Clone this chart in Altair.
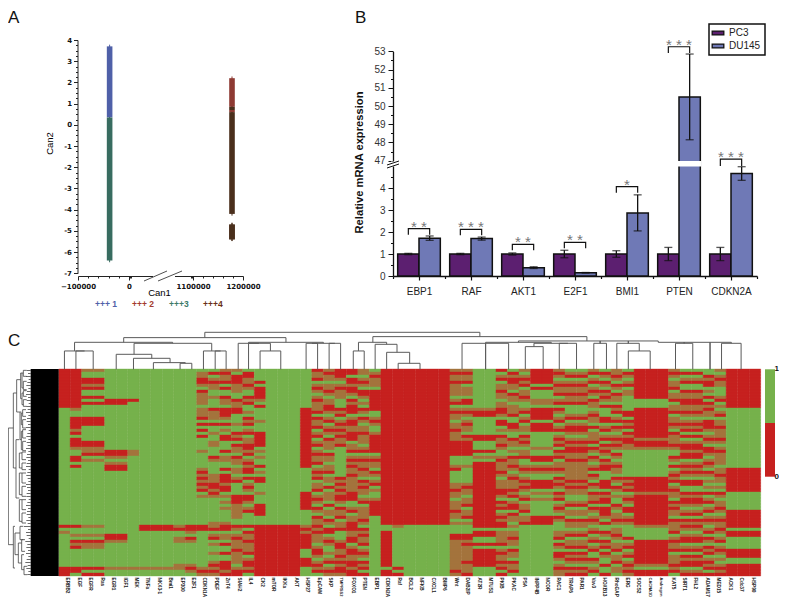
import re
import altair as alt
import pandas as pd

W, H = 771, 589
SANS = "Liberation Sans"
GREEN, RED, MIX = "#76b14b", "#c6211f", "#a4733c"

# ---------- Panel A ----------
can_x_major = [-100000, 0, 1100000, 1200000]
can_x_ticks = [-100000, -80000, -60000, -40000, -20000, 0, 20000, 40000,
               1060000, 1080000, 1100000, 1120000, 1140000, 1160000, 1180000, 1200000]
can_y_ticks = [v / 4 for v in range(-28, 17)]
can_group = ["1", "4", "2", "4", "2", "4", "3", "4"]
can_x = [-38000, 1178000, 1178000, 1178000, 1178000, 1178000, -38000, 1178000]
can_hi = [3.7, -4.7, 2.2, 0.85, 0.7, 0.6, 0.35, -4.7]
can_lo = [0.35, -5.4, 0.85, 0.7, 0.6, -4.2, -6.4, -5.4]
can_names = ["1", "2", "3", "4"]
can_colors = ["#4f60a8", "#8e3a33", "#386c60", "#4a2f1c"]
can_legend = ["+++ 1", "+++ 2", "+++3", "+++4"]
can_legend_text = ["#4f60a8", "#a33a2e", "#3d7a68", "#6a3018"]

# ---------- Panel B ----------
genes = ["EBP1", "RAF", "AKT1", "E2F1", "BMI1", "PTEN", "CDKN2A"]
pc3_val = [1, 1, 1, 1, 1, 1, 1]
pc3_err = [0.03, 0.03, 0.05, 0.17, 0.15, 0.3, 0.3]
du_val = [1.72, 1.7, 0.38, 0.15, 2.87, 50.5, 4.66]
du_err = [0.1, 0.07, 0.04, 0.01, 0.82, 2.35, 0.31]
sig_top = [2.15, 2.12, 1.44, 1.53, 4.06, 53.25, 47.09]
sig_low = [1.88, 1.85, 1.17, 1.26, 3.79, 52.9, 5.0]
sig_txt = ["*\u00a0*", "*\u00a0*\u00a0*", "*\u00a0*", "*\u00a0*", "*", "*\u00a0*\u00a0*", "*\u00a0*\u00a0*"]
y_ticks_b = [v / 2 for v in range(0, 10)] + [47 + v / 2 for v in range(0, 13)]
group_edges = [0, 1, 2, 3, 4, 5, 6, 7]
BREAK_LO, BREAK_HI = 5.02, 46.93

# ---------- Panel C ----------
col_names = ["ERBB2", "EGF", "EGFR", "Ras", "EGR1", "IGF1", "MEK", "TNFa", "NKX3-1", "Bmi1", "EP300", "E2F1",
             "CDKN1A", "PDEF", "ZnT4", "SIAH2", "IL4", "CK2", "mTOR", "IKKa", "AKT", "HSP27", "EpCAM", "SKP",
             "TMPRSS2", "FOXO1", "PTEN", "EBP1", "CDKN2A", "Raf", "BCL2", "NFKB", "CXCL1", "BMP6", "Wnt", "DAB2IP",
             "AT2R", "MTUS1", "PKIB", "PKAC", "PSA", "INPP4B", "NCOR", "RAC1", "TRAP6", "PAR1", "Vav3", "HOXB13",
             "RhoGAP", "ERG", "SOCS2", "CACNA1D", "Androgen", "KAT5", "SIRT1", "FHL2", "ADAM17", "MED15", "ACK1",
             "Cdc37", "HSP90"]
long_names = ["TMPRSS2", "CACNA1D", "Androgen"]

c_erbb2 = "r13 g13 g13 g13 rgmg11r3"
c_egf = "r13 mggrrrrmrgrrr mggrrgrg6 g13 rggmgrmrg6rrg"
c_egfr = "mggrrmrggrgrg g3r3g5r2 mmrgmg8 g13 mggmgrmmg6rgr"
c_egr1 = "g10r2g g13 grrmgmrrggggg g13 g3r2mg8mg2"
c_mek = "g10rg2 g13 gmmg10 g13 g14mg2"
c_tnfa = "g13 g13 g13 g13 r2g12mg2"
c_ep300 = "g13 g13 g13 g13 mrggmmg7mmg2"
c_e2f1 = "g13 g13 g13 g13 rrmgrmg7mrmg"
c_cdkn1a = "gmmrrmgrmmmmg mmmrgrgrgrggg gmgggggmrmrmr mrgmg9 rrg12mrm"
c_pdef = "grgmrmmggmggg rmmmgrggmggmm gggrmggggmmmr rmrmg8m mrgmrgmggmggmrmrm"
c_znt4 = "mrmmrgrggrmmg rrrmgrgmgrrgg grgmmggrgrrrm rrgmgmgmggggm rrgmmgrggrggrrrmr"
c_siah2 = "mgrrrmmmggrmm rrgggmggrmrgr mmgrmmgmmgmrg gggrrrmmmmmgg rmgmrmmmrmmmmgmrr"
c_il4 = "grrmmrmggrmrg gmgrmrgmrgmmr rmrgmrmrrgrgm rmgrrmgmrgggg rgrmmrmmmrgmrrmrg"
c_ck2 = "ggggrgrrrrmgr g4mg3r5 gmgmggrgmgrrg ggmgggrrrrggg r17"
c_all_g_red = "g13 g13 g13 g13 r17"
c_hsp27 = "g13 r13 r7g6 g2r6g5 mrmrrrrrgggrrrggg"
c_epcam = "rmmrgmrmgmrmm mrgrmmrgmrgmr gmrmmrgmrmrgm mrgmrmgrmgrmm rmrmmmgmrrmgmrmrg"
c_skp = "mrmmgmmrmgmmr rmgmrgmrmgrmm mgrmmgmmrgmmg rgmmmgrgmmgrm grrgmrmggmgmrgmrm"
c_tmprss2 = "rrrmgmrmmmggg rmrgmrmrmrmmr g10rmr mrmrrmgrmmrgm mrgggmrrmmrmrmrrm"
c_foxo1 = "rrgrrmrrmgrmr rrgmrrmmrrrgm mrgmrmrmmrmmm mmrrrggmrgmmr rrmmrrgmrrmmrrmrr"
c_pten = "mmgmrmgrrmgmg rmgrmgmmrmmmg mrgmrmmrmmgrm rmmgmrgmmmmrm grmrmmrgmrmgrmrgr"
c_ebp1 = "gmrmmmgrrrrrr rggmrmggmrrrr rrgmrmmgrmgmr gmggmrrrrrggg g17"
c_cdkn2a = "r13 r13 r13 r13 ggr12grr"
c_raf = "r13 r13 r13 r13 mg13rgr"
c_bcl2 = "r13 r13 r13 r13 g17"
c_wnt = "mrmmrmmmmgmrg mrmmgmmrmmmrr rrrgggmrggggm mrmmgmmmrmmgm gggrrm10rm"
c_dab2ip = "mrmmrgmmmgrrg mrmgmrmmgrmrr rrrgggmgggggm rmmgmmrgmmrgm gggrrmrmmmmmrmmmr"
c_at2r = "g13 mrrg6rrgg grgmgr8 r13 rgrrggrgr6g3"
c_pkib = "rgmrgmmrmmgmm rrmgrrgmgrmmr mggmrmmmrmgmm mrrmgrmrgmrmr rgmmmmrgmrmmrmrgr"
c_pkac = "grmrrmmgrmmgm mmrggrrmggrmm gmgrmmrmgmrmm mrmrgmrrgrmmg mgmmrmmgrmmgrmmrg"
c_psa = "mgmrmrgmmrmgg mrgmrgmmgrmrm gmmrggmrmgmrm rmgmrgmmrgmmr g17"
c_inpp4b = "r5grgggmmg r4gr3g5 mggrrgmrmggrr rgmgmg5rrr g17"
c_rac1 = "mrmgmrmmrgmrg rmgmrgmrgmrmr grmrgmmrmgrmr mgrmrgmrmgrmg ggmmrgrmgrrmgmrmm"
c_trap6 = "gmrgmrmmrmmrg ggmrgmrrmgmrm rrmmrmmmmmmrm rmmggmrgmmgrm mgmrgmmrgrmrmgrmr"
c_vav3 = "mrgmrgmrmgrmm gmrmmgrgmmmrg rmgrmgmrgrmgr mgrmmrgrmgmrm gmrgmrgmrggrmgmrg"
c_hoxb13 = "grmgrmgrmrmgr gggrrgmrgmrgr mrmgrmrrgggrr rgrmrrgrrrmgr ggrmgrmrgrmggrggr"
c_rhogap = "mmrmgrmgrmmgr mrgmrgrmgmrmr mgrmgmrmmgrmg rmgmggrmgmmrm gmmrmgmmrgmmrgmmg"
c_erg = "grmgmrgmmgggg grrgrmrgrmrrm mg9rmr mrgmrmgrrgmrm ggggrgmrgmrgmrmrm"
c_socs2 = "r10g3 r10mr2 mg9r3 rrmr10 mggggr8mgrr"
c_kat5 = "mrmgmmrgmmrgm mrgmmrmgrmmmr mggrmgrgmrmrg mrmmgrmrmmgrm mmrgmrmmrgmmmrmrg"
c_sirt1 = "grgmrggrmmrrm mrmgmrmrgrgmr rmrrgmrmrmgrr ggrmrrmgmrgrm rmgmrrgmrgrmrrgmr"
c_adam17 = "ggrmrrgmgrgrm rmmgrrrmgmrmg rrmgmrmgrmgmg mgrgmrgmrgmrm gmrgrmgrmrgmrmrgr"
c_med15 = "mgmrmmgggmrgm gmrgmmrmmmrmg mrmmmmgmmrmmg mgrmgmmrmgmrm mrmgmrgmrmgmgmrmr"
c_ack1 = "r13 g13 g7r6 rrg6r5 rgrrggggrrrggrrrr"

heat_cols = [c_erbb2, c_egf, c_egfr, c_egfr, c_egr1, c_egr1, c_mek, c_tnfa, c_tnfa, c_tnfa, c_ep300, c_e2f1,
             c_cdkn1a, c_pdef, c_znt4, c_siah2, c_il4, c_ck2, c_all_g_red, c_all_g_red, c_all_g_red, c_hsp27,
             c_epcam, c_skp, c_tmprss2, c_foxo1, c_pten, c_ebp1, c_cdkn2a, c_raf, c_bcl2, c_bcl2, c_bcl2, c_bcl2,
             c_wnt, c_dab2ip, c_at2r, c_at2r, c_pkib, c_pkac, c_psa, c_inpp4b, c_inpp4b, c_rac1, c_trap6, c_trap6,
             c_vav3, c_hoxb13, c_rhogap, c_erg, c_socs2, c_socs2, c_socs2, c_kat5, c_sirt1, c_sirt1, c_adam17,
             c_med15, c_ack1, c_ack1, c_ack1]

# top dendrogram: left pos, right pos, bar level, left foot, right foot (picture levels)
top_tree = [
    (1.5, 3.0, 78, 133, 133), (0.5, 2.25, 78, 133, 78), (5.0, 8.09, 88, 133, 100), (6.5, 9.68, 100, 133, 113),
    (8.23, 11.0, 113, 133, 115), (10.55, 11.57, 115, 133, 133), (13.6, 14.55, 78, 133, 133),
    (12.58, 14.07, 78, 133, 78), (6.55, 13.3, 55, 88, 78), (1.38, 9.9, 52, 78, 55), (17.5, 19.3, 78, 133, 133),
    (16.5, 18.4, 55, 133, 78), (15.6, 17.4, 55, 133, 55), (21.5, 22.5, 55, 133, 133), (23.5, 24.5, 55, 133, 133),
    (22.0, 24.0, 55, 55, 55), (16.5, 23.0, 52, 55, 55), (5.65, 19.75, 38, 52, 52), (12.7, 36.6, 22, 38, 35),
    (27.3, 45.9, 35, 52, 48), (26.05, 28.5, 52, 78, 58), (25.6, 26.55, 78, 133, 133), (27.5, 29.4, 58, 133, 82),
    (28.5, 30.5, 82, 133, 115), (29.5, 31.4, 115, 133, 133), (39.95, 52.1, 48, 52, 52), (37.1, 42.8, 52, 55, 55),
    (35.05, 39.1, 55, 133, 133), (37.1, 37.1, 55, 133, 133), (40.55, 42.1, 65, 133, 133), (43.5, 45.0, 55, 133, 133),
    (41.3, 44.25, 55, 65, 55), (46.5, 47.6, 55, 133, 133), (48.5, 50.45, 55, 133, 78), (49.5, 51.4, 78, 133, 133),
    (47.05, 47.05, 48, 55, 55), (49.5, 49.5, 48, 55, 55), (53.6, 55.1, 55, 133, 133), (57.6, 59.3, 55, 133, 133),
    (52.1, 58.45, 52, 52, 55), (54.35, 54.35, 52, 55, 55), (56.6, 56.6, 52, 133, 133),
]
# left dendrogram: stem depth, top level, bottom level, top foot depth, bottom foot depth
left_tree = [
    (25, 310, 660, 40, 40), (40, 205, 430, 50, 48), (40, 605, 730, 45, 45), (50, 165, 262, 62, 60),
    (62, 145, 222, 66, 66), (66, 145, 190, 70, 70), (66, 205, 240, 70, 70), (60, 262, 345, 64, 64),
    (64, 265, 300, 68, 68), (64, 320, 375, 68, 68), (48, 345, 520, 58, 58), (58, 385, 430, 66, 66),
    (58, 445, 510, 66, 66), (58, 525, 590, 66, 66), (70, 137, 155, 80, 80), (70, 170, 195, 80, 80),
    (70, 198, 215, 80, 80), (70, 225, 245, 80, 80), (68, 255, 275, 78, 78), (68, 285, 310, 78, 78),
    (68, 315, 340, 78, 78), (68, 350, 378, 78, 78), (66, 382, 405, 78, 78), (66, 415, 435, 78, 78),
    (66, 445, 475, 78, 78), (66, 485, 515, 78, 78), (66, 525, 555, 78, 78), (66, 565, 595, 78, 78),
    (45, 625, 690, 60, 55), (60, 605, 645, 70, 70), (55, 655, 715, 65, 65), (65, 645, 680, 75, 75),
    (65, 690, 735, 72, 72), (72, 725, 750, 82, 82),
]
leaf_depth = [80, 84, 78, 86, 82, 79, 85, 81, 78, 84, 80, 86, 79, 83, 78, 85, 81, 80, 84, 78, 86, 82, 79, 85,
              80, 83, 78, 85, 81, 79, 84, 80, 78, 86, 82, 79, 83, 85, 78, 81, 84, 80, 79, 86, 82, 78, 84, 81,
              80, 85, 79, 83, 72, 84, 78, 80, 86, 76, 82, 79, 84, 78, 85, 80, 76, 83, 79, 85, 82]
CHUNKS = [13, 13, 13, 13, 17]


def expand(col):
    rows = []
    for chunk, n in zip(col.split(), CHUNKS):
        s = "".join(c * (int(k) if k else 1) for c, k in re.findall(r"([rgm])(\d*)", chunk))
        rows.append((s + "g" * n)[:n])
    return "".join(rows)


heat = pd.DataFrame([{"c": i, "r": j, "v": ch}
                     for i, col in enumerate(heat_cols) for j, ch in enumerate(expand(col))])

seg_top = []
for a, b, t, fa, fb in top_tree:
    seg_top += [dict(x=a, x2=b, y=133 - t, y2=133 - t), dict(x=a, x2=a, y=133 - t, y2=133 - fa),
                dict(x=b, x2=b, y=133 - t, y2=133 - fb)]
seg_left = []
for d, t, b, ft, fb in left_tree:
    seg_left += [dict(x=d, x2=d, y=t, y2=b), dict(x=d, x2=ft, y=t, y2=t), dict(x=d, x2=fb, y=b, y2=b)]
for i, d in enumerate(leaf_depth):
    seg_left.append(dict(x=d, x2=92, y=137.5 + 9 * i, y2=137.5 + 9 * i))
seg_top, seg_left = pd.DataFrame(seg_top), pd.DataFrame(seg_left)

NONE = dict(title=None, axis=None)
tick_cond = lambda test, minor, major: {"condition": {"test": test, "value": minor}, "value": major}

# ---------- A ----------
ax_a = alt.Scale(domain=can_x_major, range=[70, 121, 185, 235])
ay_a = alt.Scale(domain=[-7, 4], range=[265.3, 32])
df_a = pd.DataFrame(dict(g=can_group, x=can_x, hi=can_hi, lo=can_lo))
df_a["hi2"] = [v + 0.08 for v in can_hi]
df_a["lo2"] = [v - 0.08 for v in can_lo]
a_color = alt.Color("g:N", scale=alt.Scale(domain=can_names, range=can_colors), legend=None)
a_axes = alt.Chart(df_a).mark_point(opacity=0).encode(
    x=alt.X("x:Q", scale=ax_a, title=None, axis=alt.Axis(
        orient="bottom", offset=268 - H, values=can_x_ticks,
        labelExpr="datum.value % 100000 === 0 ? format(datum.value, 'd') : ''",
        tickSize=tick_cond("datum.value % 100000 !== 0", 2, 4), labelOverlap=False, labelFlush=False,
        labelFont="DejaVu Sans", labelFontWeight="bold", labelFontSize=7, labelColor="#111", labelPadding=2,
        domainColor="#222", tickColor="#222", title="Can1", titleFont=SANS, titleFontSize=9.5,
        titleFontWeight="normal", titleBaseline="middle", titleX=151, titleY=16)),
    y=alt.Y("hi:Q", scale=ay_a, title=None, axis=alt.Axis(
        orient="left", offset=-69.5, values=can_y_ticks,
        labelExpr="datum.value % 1 === 0 ? datum.value : ''",
        tickSize=tick_cond("datum.value % 1 !== 0", 2, 4), labelOverlap=False,
        labelFont="DejaVu Sans", labelFontWeight="bold", labelFontSize=7, labelColor="#111", labelPadding=2,
        domainColor="#222", tickColor="#222", title="Can2", titleFont=SANS, titleFontSize=9.5,
        titleFontWeight="normal", titlePadding=9, titleY=135)),
)
a_base = alt.Chart(df_a).mark_rule(strokeWidth=5.6, strokeCap="butt").encode(
    x=alt.X("x:Q", scale=ax_a, **NONE), y=alt.Y("hi:Q", scale=ay_a, **NONE), y2="lo:Q", color=a_color)
a_caps = alt.Chart(df_a).mark_rule(strokeWidth=1).encode(
    x=alt.X("x:Q", scale=ax_a, **NONE), y=alt.Y("hi2:Q", scale=ay_a, **NONE), y2="lo2:Q", color=a_color)
a_break = [
    alt.Chart().mark_rule(color="white", strokeWidth=3).encode(x=alt.value(145), x2=alt.value(167), y=alt.value(268)),
    alt.Chart().mark_rule(color="#222", strokeWidth=0.8).encode(x=alt.value(136), x2=alt.value(159), y=alt.value(273), y2=alt.value(263)),
    alt.Chart().mark_rule(color="#222", strokeWidth=0.8).encode(x=alt.value(150), x2=alt.value(174), y=alt.value(273), y2=alt.value(263)),
]
a_leg = [alt.Chart().mark_text(text=t, color=c, font=SANS, fontSize=8.5, fontWeight="bold", align="left", baseline="middle")
         .encode(x=alt.value(x), y=alt.value(296))
         for t, c, x in zip(can_legend, can_legend_text, [87, 124, 161, 195])]
panel_a = alt.layer(a_caps, a_base)

# ---------- B ----------
gx = alt.Scale(domain=genes, range=[385, 749], paddingInner=0.18, paddingOuter=0.09)
gxo = alt.Scale(domain=["PC3", "DU145"], paddingInner=0, paddingOuter=0)
gy = alt.Scale(domain=[0, BREAK_LO, BREAK_HI, 53], range=[268, 157.6, 154, 43.3])
df_b = pd.DataFrame(dict(
    gene=genes * 2, series=["PC3"] * 7 + ["DU145"] * 7, val=pc3_val + du_val, err=pc3_err + du_err))
df_b["lo"] = df_b.val - df_b.err
df_b["hi"] = df_b.val + df_b.err
X_B = alt.X("gene:N", scale=gx, sort=genes, **NONE)
XO = alt.XOffset("series:N", scale=gxo, sort=["PC3", "DU145"])
b_axes = alt.Chart(df_b).mark_point(opacity=0).encode(
    x=alt.X("gene:N", scale=gx, sort=genes, title=None, axis=alt.Axis(
        orient="bottom", offset=268 - H, labelAngle=0, labelFont=SANS, labelFontSize=10, labelColor="#222",
        labelPadding=6, tickSize=4, tickColor="#111", domainColor="#111", domainWidth=1.3, tickWidth=1.2)),
    y=alt.Y("val:Q", scale=gy, title=None, axis=alt.Axis(
        orient="left", offset=-385, values=y_ticks_b,
        labelExpr="datum.value % 1 === 0 ? datum.value : ''",
        tickSize=tick_cond("datum.value % 1 !== 0", 2.5, 5), labelOverlap=False, labelFont=SANS, labelFontSize=10,
        labelColor="#333", labelPadding=3, domainColor="#111", domainWidth=1.3, tickColor="#111",
        title="Relative mRNA expression", titleFont=SANS, titleFontSize=11.2, titleFontWeight="bold",
        titleColor="#111", titlePadding=9, titleY=154)),
)
b_edges = alt.Chart(pd.DataFrame(dict(e=group_edges))).mark_point(opacity=0).encode(
    x=alt.X("e:Q", scale=alt.Scale(domain=[0, 7], range=[385, 749]), title=None, axis=alt.Axis(
        orient="bottom", offset=268 - H, values=group_edges, labels=False, domain=False, tickSize=2.5,
        tickColor="#111", tickWidth=1.2)),
)
bars = alt.Chart(df_b).mark_bar(stroke="#111", strokeWidth=1.5).encode(
    x=X_B, xOffset=XO, y=alt.Y("val:Q", scale=gy, **NONE),
    fill=alt.Fill("series:N", scale=alt.Scale(domain=["PC3", "DU145"], range=["#5c1f70", "#6f79b6"]), legend=alt.Legend(
        orient="none", legendX=701, legendY=16, title=None, strokeColor="#111", padding=4, rowPadding=3,
        symbolType="M-1.5,-0.5H1.5V0.5H-1.5Z", symbolSize=60, symbolStrokeColor="#111", symbolStrokeWidth=1.3,
        symbolOpacity=1, labelFont=SANS, labelFontSize=10, labelColor="#222", labelOffset=6, symbolOffset=0)),
)
err_rule = alt.Chart(df_b).mark_rule(color="#111", strokeWidth=1.3).encode(
    x=X_B, xOffset=XO, y=alt.Y("lo:Q", scale=gy, **NONE), y2="hi:Q")
cap_hi = alt.Chart(df_b).mark_tick(color="#111", thickness=1.3, size=8, orient="horizontal").encode(
    x=X_B, xOffset=XO, y=alt.Y("hi:Q", scale=gy, **NONE))
cap_lo = alt.Chart(df_b).mark_tick(color="#111", thickness=1.3, size=8, orient="horizontal").encode(
    x=X_B, xOffset=XO, y=alt.Y("lo:Q", scale=gy, **NONE))
strip = pd.DataFrame(dict(gene=["PTEN"], series=["DU145"], a=[BREAK_LO], b=[BREAK_HI]))
break_bar = alt.Chart(strip).mark_bar(color="white", stroke="white", strokeWidth=2).encode(
    x=X_B, xOffset=XO, y=alt.Y("a:Q", scale=gy, **NONE), y2="b:Q")
brk_rows = []
for g, t, l in zip(genes, sig_top, sig_low):
    brk_rows += [dict(gene=g, series="PC3", y=l, o=0), dict(gene=g, series="PC3", y=t, o=1),
                 dict(gene=g, series="DU145", y=t, o=2), dict(gene=g, series="DU145", y=l, o=3)]
brackets = alt.Chart(pd.DataFrame(brk_rows)).mark_line(color="#111", strokeWidth=1.2, interpolate="linear").encode(
    x=X_B, xOffset=XO, y=alt.Y("y:Q", scale=gy, **NONE), detail="gene:N", order="o:Q")
stars = alt.Chart(pd.DataFrame(dict(gene=genes, y=sig_top, t=sig_txt))).mark_text(
    color="#777", font=SANS, fontSize=15, baseline="alphabetic", dy=3).encode(
    x=X_B, y=alt.Y("y:Q", scale=gy, **NONE), text="t:N")
b_break = [
    alt.Chart().mark_rule(color="white", strokeWidth=4).encode(x=alt.value(385), y=alt.value(153.5), y2=alt.value(158.5)),
    alt.Chart().mark_rule(color="#111", strokeWidth=1).encode(x=alt.value(379), x2=alt.value(391), y=alt.value(157), y2=alt.value(153)),
    alt.Chart().mark_rule(color="#111", strokeWidth=1).encode(x=alt.value(379), x2=alt.value(391), y=alt.value(160), y2=alt.value(156)),
]
panel_b = alt.layer(bars, break_bar, err_rule, cap_hi, cap_lo, brackets, stars)

# ---------- C ----------
heat_scale = alt.Scale(domain=["r", "g", "m"], range=[RED, GREEN, MIX])
heat_layer = alt.Chart(heat).mark_rect(strokeWidth=0.4).encode(
    x=alt.X("c:O", scale=alt.Scale(range=[50.67, 752.67], paddingInner=0, paddingOuter=0), **NONE),
    y=alt.Y("r:O", scale=alt.Scale(range=[361, 568], paddingInner=0, paddingOuter=0), **NONE),
    color=alt.Color("v:N", scale=heat_scale, legend=None),
    stroke=alt.Stroke("v:N", scale=heat_scale, legend=None),
)
top_layer = alt.Chart(seg_top).mark_rule(color="#5a5a5a", strokeWidth=1).encode(
    x=alt.X("x:Q", scale=alt.Scale(domain=[0, 61], range=[50.67, 752.67]), **NONE), x2="x2:Q",
    y=alt.Y("y:Q", scale=alt.Scale(domain=[0, 120], range=[361.3, 321.3]), **NONE), y2="y2:Q",
)
lx = alt.Scale(domain=[0, 176], range=[-8, 50.67])
ly = alt.Scale(domain=[133, 754], range=[361, 568])
left_layer = alt.Chart(seg_left).mark_rule(color="#444", strokeWidth=0.8).encode(
    x=alt.X("x:Q", scale=lx, **NONE), x2="x2:Q", y=alt.Y("y:Q", scale=ly, **NONE), y2="y2:Q")
block = alt.Chart(pd.DataFrame(dict(x=[92], x2=[176], y=[133], y2=[754]))).mark_rect(color="black").encode(
    x=alt.X("x:Q", scale=lx, **NONE), x2="x2:Q", y=alt.Y("y:Q", scale=ly, **NONE), y2="y2:Q")
df_names = pd.DataFrame(dict(n=col_names))
df_names["fs"] = [4.0 if n in long_names else 4.7 for n in col_names]
names = alt.Chart(df_names).mark_text(
    angle=90, align="left", baseline="middle", font=SANS, fontWeight="bold", color="#222").encode(
    x=alt.X("n:N", sort=col_names, scale=alt.Scale(type="point", domain=col_names, range=[53.7, 750.3]), **NONE),
    y=alt.value(569.5), text="n:N", size=alt.Size("fs:Q", scale=None, legend=None))
key = pd.DataFrame(dict(a=[0, 0.5], b=[0.5, 1], v=["0", "1"]))
key_y = alt.Scale(domain=[0, 1], range=[468.7, 361.3])
key_bar = alt.Chart(key).mark_rect(strokeWidth=0).encode(
    x=alt.value(757), x2=alt.value(767), y=alt.Y("a:Q", scale=key_y, **NONE), y2="b:Q",
    color=alt.Color("v:N", scale=alt.Scale(domain=["0", "1"], range=[RED, GREEN]), legend=None))
key_txt = alt.Chart(pd.DataFrame(dict(a=[0, 1], t=["0", "1"]))).mark_text(
    font=SANS, fontSize=8, fontWeight="bold", color="#111", align="right", baseline="middle").encode(
    x=alt.value(771), y=alt.Y("a:Q", scale=key_y, **NONE), text="t:N")

letters = [alt.Chart().mark_text(text=t, font=SANS, fontSize=17, color="#111", align="left", baseline="middle")
           .encode(x=alt.value(x), y=alt.value(y))
           for t, x, y in [("A", 0, 10), ("B", 347, 10), ("C", 0, 333)]]

chart = alt.layer(
    a_axes, b_axes, b_edges, panel_a, *a_break, *a_leg, panel_b, *b_break, heat_layer, top_layer, left_layer, block,
    names, key_bar, key_txt, *letters
).resolve_scale(x="independent", y="independent", color="independent", fill="independent",
                stroke="independent", size="independent").properties(
    width=W, height=H, padding=0, autosize=alt.AutoSizeParams(type="none", contains="padding"),
).configure_view(stroke=None).configure_axis(grid=False).configure_legend(strokeWidth=1.5)

chart.save("out.html", embed_options={"renderer": "svg", "actions": False})
